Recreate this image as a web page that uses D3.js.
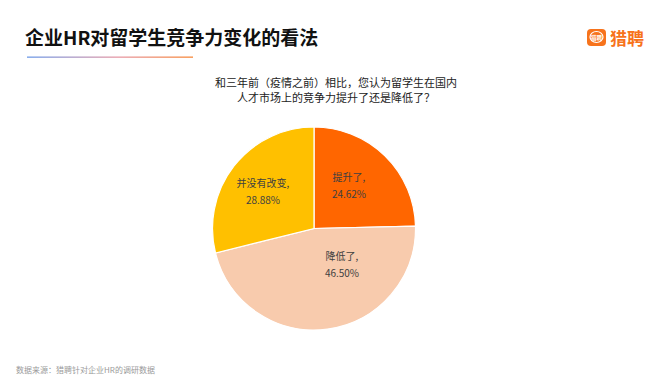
<!DOCTYPE html>
<html>
<head>
<meta charset="utf-8">
<script src="https://cdn.jsdelivr.net/npm/d3@7"></script>
<style>
  body { margin: 0; background: #fff; }
  svg { display: block; font-family: "Noto Sans CJK SC", "Noto Sans", sans-serif; }
</style>
</head>
<body>
<div id="graphicContainer"></div>
<script>
// chart data
var categories = ["提升了", "降低了", "并没有改变"]
var values = [24.62, 46.50, 28.88]
var colours = ["#FF6600", "#F8CBAD", "#FFC000"]
var labelPos = [[349, 188], [342, 267], [263, 194]]

var title = "企业HR对留学生竞争力变化的看法"
var question = ["和三年前（疫情之前）相比，您认为留学生在国内", "人才市场上的竞争力提升了还是降低了？"]
var source = "数据来源：猎聘针对企业HR的调研数据"

var width = 669
var height = 384

var svg = d3.select("#graphicContainer").append("svg")
	.attr("width", width)
	.attr("height", height)

var defs = svg.append("defs")
var grad = defs.append("linearGradient")
	.attr("id", "titleLine")
	.attr("x1", "0%").attr("x2", "100%")
	.attr("y1", "0%").attr("y2", "0%")
grad.append("stop").attr("offset", "0%").attr("stop-color", "#6E9BE8")
grad.append("stop").attr("offset", "55%").attr("stop-color", "#E79AA6")
grad.append("stop").attr("offset", "100%").attr("stop-color", "#F7893A")

// title
svg.append("text")
	.attr("x", 25)
	.attr("y", 45)
	.attr("font-size", 19)
	.attr("font-weight", "bold")
	.attr("fill", "#111")
	.text(title)

svg.append("rect")
	.attr("x", 27)
	.attr("y", 56.5)
	.attr("width", 166)
	.attr("height", 1.3)
	.attr("fill", "url(#titleLine)")

// logo
var logo = svg.append("g").attr("transform", "translate(587,29)")
logo.append("rect")
	.attr("width", 19)
	.attr("height", 17)
	.attr("rx", 4)
	.attr("fill", "#F7731C")
logo.append("ellipse")
	.attr("cx", 9.5).attr("cy", 8)
	.attr("rx", 6.5).attr("ry", 5.5)
	.attr("fill", "none")
	.attr("stroke", "#fff")
	.attr("stroke-width", 1.2)
logo.append("text")
	.attr("x", 9.5).attr("y", 10.5)
	.attr("text-anchor", "middle")
	.attr("font-size", 5.5)
	.attr("font-weight", "bold")
	.attr("fill", "#fff")
	.text("猎聘")
svg.append("text")
	.attr("x", 610)
	.attr("y", 45)
	.attr("font-size", 17)
	.attr("font-weight", "bold")
	.attr("fill", "#F7731C")
	.text("猎聘")

// question
svg.selectAll(".question")
	.data(question)
	.enter()
	.append("text")
	.attr("class", "question")
	.attr("x", 336)
	.attr("y", (d, i) => 87 + i * 15)
	.attr("text-anchor", "middle")
	.attr("font-size", 11)
	.attr("fill", "#222")
	.text(d => d)

// pie
var cx = 314, cy = 228.5, r = 101.5

var pie = d3.pie().sort(null).value(d => d)
var arc = d3.arc().innerRadius(0).outerRadius(r)

var pieG = svg.append("g").attr("transform", "translate(" + cx + "," + cy + ")")

pieG.selectAll("path")
	.data(pie(values))
	.enter()
	.append("path")
	.attr("d", arc)
	.attr("fill", (d, i) => colours[i])
	.attr("stroke", "#fff")
	.attr("stroke-width", 1.2)

var labels = svg.selectAll(".sliceLabel")
	.data(categories)
	.enter()
	.append("text")
	.attr("class", "sliceLabel")
	.attr("text-anchor", "middle")
	.attr("font-size", 10)
	.attr("fill", "#404040")

labels.append("tspan")
	.attr("x", (d, i) => labelPos[i][0])
	.attr("y", (d, i) => labelPos[i][1] - 7)
	.text(d => d + ",")

labels.append("tspan")
	.attr("x", (d, i) => labelPos[i][0])
	.attr("y", (d, i) => labelPos[i][1] + 10)
	.text((d, i) => values[i].toFixed(2) + "%")

// footer
svg.append("text")
	.attr("x", 16)
	.attr("y", 373)
	.attr("font-size", 8)
	.attr("fill", "#9a9a9a")
	.text(source)
</script>
</body>
</html>
